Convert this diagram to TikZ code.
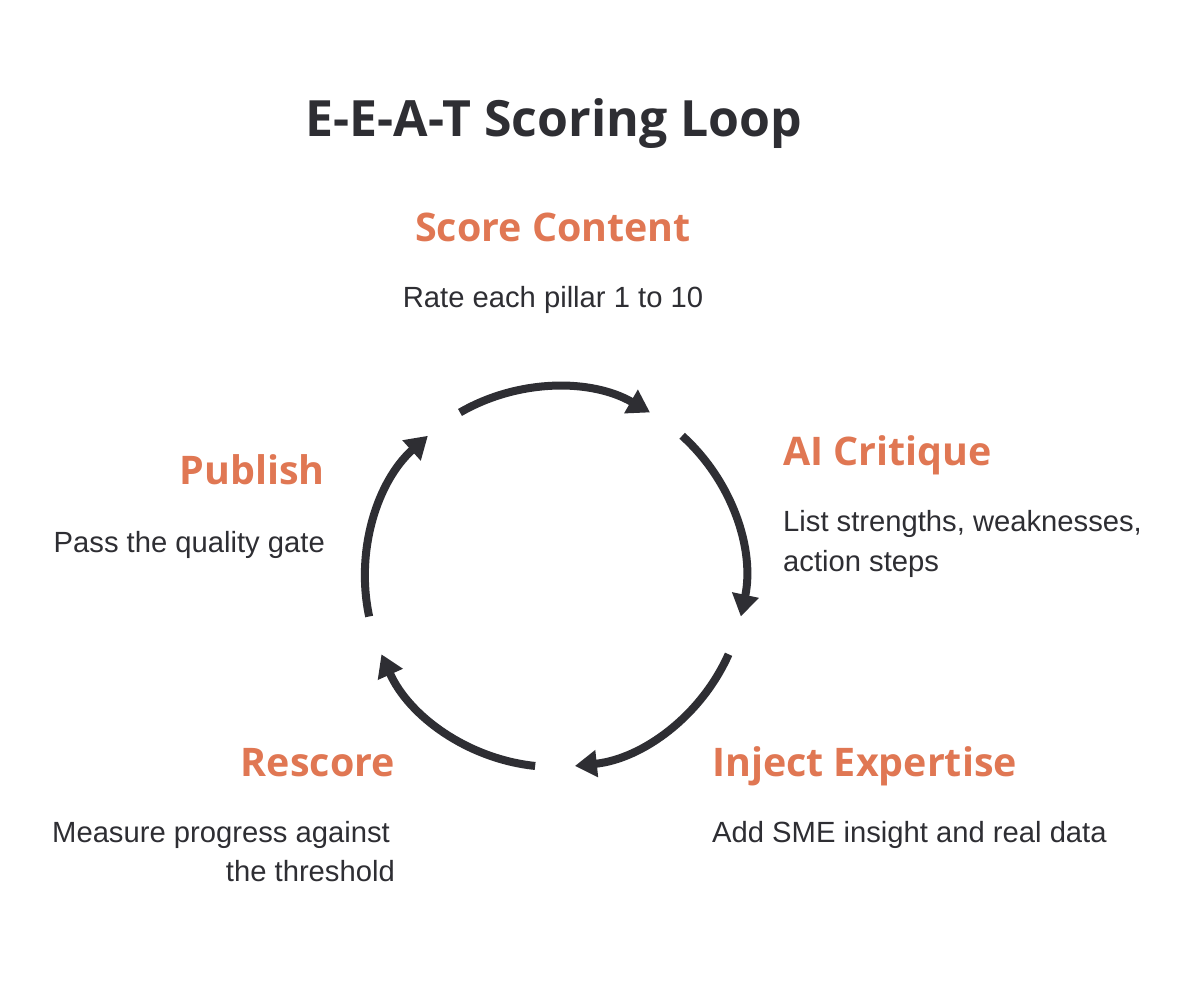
\documentclass[tikz,border=0pt]{standalone}
\usepackage{fontspec}
\setmainfont{Liberation Sans}
\newfontfamily\headfont{Open Sans}
\usetikzlibrary{arrows.meta,calc}
\definecolor{ink}{HTML}{2E2E33}
\definecolor{accent}{HTML}{E07753}
\tikzset{
  titletext/.style={font=\headfont\bfseries\fontsize{50}{58}\selectfont, text=ink, inner sep=0pt},
  headtext/.style={font=\headfont\bfseries\fontsize{39.4}{46}\selectfont, text=accent, inner sep=0pt},
  desctext/.style={font=\fontsize{29.2}{36}\selectfont, text=ink, inner sep=0pt},
  looparc/.style={draw=ink, line width=8pt, -{Triangle[length=22pt,width=26pt]}},
}
\begin{document}
\begin{tikzpicture}[x=1pt,y=-1pt]
\useasboundingbox[fill=white] (0,0) rectangle (1200,981);
\node[titletext, anchor=base] (title) at (554,137) {E-E-A-T Scoring Loop};
% loop
\coordinate (c) at (555,577);
\foreach \k in {0,...,4}{
  \draw[looparc] ($(c)+({-120+72*\k}:190)$) arc[start angle={-120+72*\k}, end angle={-60+72*\k}, radius=190];
}
% steps
\node[headtext, anchor=base] (h1) at (553,242) {Score Content};
\node[desctext, anchor=base] (d1) at (553,308) {Rate each pillar 1 to 10};
\node[headtext, anchor=base west] (h2) at (783,466) {AI Critique};
\node[desctext, anchor=base west] (d2a) at (783,531) {List strengths, weaknesses,};
\node[desctext, anchor=base west] (d2b) at (783,571) {action steps};
\node[headtext, anchor=base west] (h3) at (712,776) {Inject Expertise};
\node[desctext, anchor=base west] (d3) at (712,842) {Add SME insight and real data};
\node[headtext, anchor=base east] (h4) at (395,776) {Rescore};
\node[desctext, anchor=base east] (d4a) at (390,842) {Measure progress against};
\node[desctext, anchor=base east] (d4b) at (395,881) {the threshold};
\node[headtext, anchor=base east] (h5) at (325,485) {Publish};
\node[desctext, anchor=base east] (d5) at (325,552) {Pass the quality gate};
\end{tikzpicture}
\end{document}
